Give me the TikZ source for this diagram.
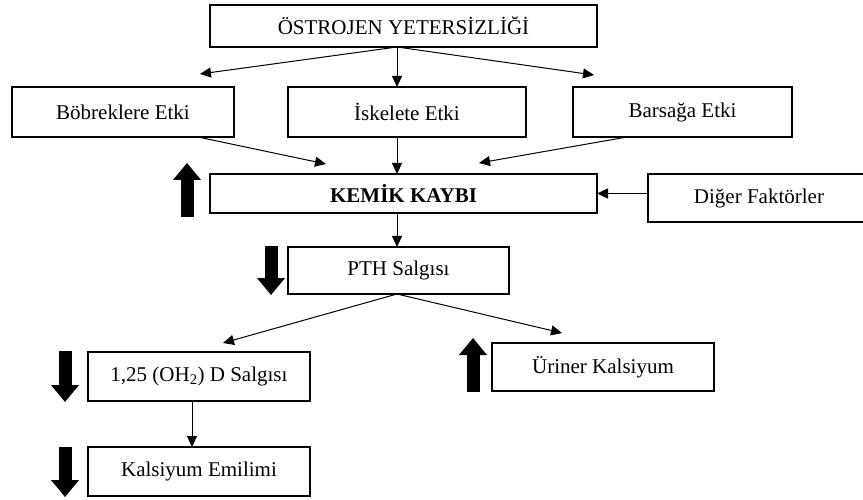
\documentclass[tikz,border=0pt]{standalone}
\usepackage{fontspec}
\setmainfont{Liberation Serif}
\usetikzlibrary{arrows.meta}
\tikzset{
    font = \fontsize{21}{24}\selectfont,
    every node/.style = {
        inner sep = 0pt,
        outer sep = 0pt
    },
    box/.style = {
        draw,
        line width = 1.6pt,
        minimum width = 222pt,
        minimum height = 49pt
    },
    link/.style = {
        -{Triangle[length=11pt,width=10pt]},
        line width = 1pt
    },
    trend/.style = {
        -{Triangle[length=17pt,width=27pt]},
        line width = 13pt
    }
}

\begin{document}
\begin{tikzpicture}[x=1pt,y=-1pt]
    \path[use as bounding box, clip] (0,0) rectangle (863,500);
    \node (ostro) at (403.5,26) [box, minimum width=387pt, minimum height=42pt]{ÖSTROJEN YETERSİZLİĞİ};
    \node (bobrek) at (123,112) [box, minimum height=50pt]{Böbreklere Etki};
    \node (iskelet) at (407,112) [box, minimum width=238pt, minimum height=50pt]{İskelete Etki};
    \node (barsak) at (682.5,112) [box, minimum width=219pt, minimum height=50pt]{Barsağa Etki};
    \node (kemik) at (403.5,193.5) [box, minimum width=387pt, minimum height=39pt]{\bfseries KEMİK KAYBI};
    \node (diger) at (759,198) [box, minimum width=222pt, minimum height=48pt]{Diğer Faktörler};
    \node (pth) at (398.5,270.5) [box, minimum width=221pt, minimum height=47pt]{PTH Salgısı};
    \node (salgi) at (199,376.5) [box]{1,25 (OH\textsubscript{2}) D Salgısı};
    \node (uriner) at (603,367) [box, minimum height=48pt]{Üriner Kalsiyum};
    \node (emilim) at (199,471.5) [box]{Kalsiyum Emilimi};
    % free ends of the slanted arrows
    \coordinate (axis) at (397,0);
    \coordinate (toBob) at (200,74);
    \coordinate (toBar) at (594,75);
    \coordinate (inKemL) at (326,164);
    \coordinate (inKemR) at (479,163);
    \coordinate (toSalgi) at (223,343);
    \coordinate (toUri) at (562,333);
    \draw[link] (ostro.south -| axis) -- (toBob);
    \draw[link] (ostro.south -| axis) -- (iskelet.north -| axis);
    \draw[link] (ostro.south -| axis) -- (toBar);
    \draw[link] ([xshift=-36pt]bobrek.south east) -- (inKemL);
    \draw[link] (iskelet.south -| axis) -- (kemik.north -| axis);
    \draw[link] ([xshift=54pt]barsak.south west) -- (inKemR);
    \draw[link] (diger.west |- kemik.east) -- (kemik.east);
    \draw[link] (kemik.south -| axis) -- (pth.north -| axis);
    \draw[link] (pth.south -| axis) -- (toSalgi);
    \draw[link] (pth.south -| axis) -- (toUri);
    \draw[link] ([xshift=-7pt]salgi.south) -- ([xshift=-7pt]emilim.north);
    % up and down markers
    \draw[trend] (187,217) -- (187,163);
    \draw[trend] (271,246) -- (271,295);
    \draw[trend] (65,351) -- (65,402);
    \draw[trend] (65,447) -- (65,497);
    \draw[trend] (473,392) -- (473,338);
\end{tikzpicture}
\end{document}
